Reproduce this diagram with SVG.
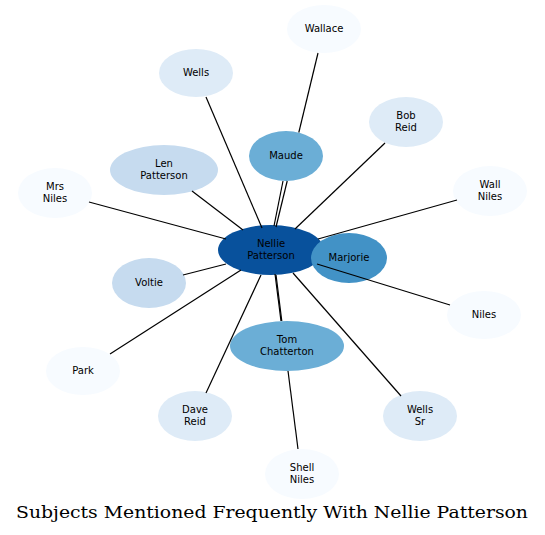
<svg xmlns="http://www.w3.org/2000/svg" width="545" height="535" viewBox="0 0 545 535">
<style>
text{font-family:"DejaVu Sans",sans-serif;font-size:10px;text-anchor:middle;fill:#000}
.e line{stroke:#000;stroke-width:1.2}
.c0{fill:#f7fbff}.c1{fill:#deebf7}.c2{fill:#c6dbef}.c3{fill:#6baed6}.c4{fill:#4292c6}.c5{fill:#08519c}
.t{font-family:"DejaVu Serif",serif;font-size:17px}
</style>
<rect width="545" height="535" fill="#fff"/>
<g id="nodes">
<g id="wallace"><ellipse class="c0" cx="324" cy="29" rx="37" ry="24"/><text x="324" y="32">Wallace</text></g>
<g id="wells"><ellipse class="c1" cx="196" cy="73" rx="37" ry="24"/><text x="196" y="76">Wells</text></g>
<g id="bobreid"><ellipse class="c1" cx="406" cy="122" rx="37" ry="25"/><text x="406" y="119">Bob</text><text x="406" y="131">Reid</text></g>
<g id="maude"><ellipse class="c3" cx="286" cy="156" rx="37" ry="25"/><text x="286" y="159">Maude</text></g>
<g id="lenpatterson"><ellipse class="c2" cx="164" cy="170" rx="54" ry="25"/><text x="164" y="167">Len</text><text x="164" y="179">Patterson</text></g>
<g id="mrsniles"><ellipse class="c0" cx="55" cy="193" rx="37" ry="25"/><text x="55" y="190">Mrs</text><text x="55" y="202">Niles</text></g>
<g id="wallniles"><ellipse class="c0" cx="490" cy="191" rx="37" ry="25"/><text x="490" y="188">Wall</text><text x="490" y="200">Niles</text></g>
<g id="nellie"><ellipse class="c5" cx="271" cy="250" rx="53" ry="25"/><text x="271" y="247">Nellie</text><text x="271" y="259">Patterson</text></g>
<g id="marjorie"><ellipse class="c4" cx="349" cy="258" rx="38" ry="25"/><text x="349" y="261">Marjorie</text></g>
<g id="voltie"><ellipse class="c2" cx="149" cy="283" rx="37" ry="25"/><text x="149" y="286">Voltie</text></g>
<g id="niles"><ellipse class="c0" cx="484" cy="315" rx="37" ry="24"/><text x="484" y="318">Niles</text></g>
<g id="park"><ellipse class="c0" cx="83" cy="371" rx="37" ry="24"/><text x="83" y="374">Park</text></g>
<g id="tomchatterton"><ellipse class="c3" cx="287" cy="346" rx="57" ry="25"/><text x="287" y="343">Tom</text><text x="287" y="355">Chatterton</text></g>
<g id="davereid"><ellipse class="c1" cx="195" cy="416" rx="37" ry="25"/><text x="195" y="413">Dave</text><text x="195" y="425">Reid</text></g>
<g id="wellssr"><ellipse class="c1" cx="420" cy="416" rx="37" ry="25"/><text x="420" y="413">Wells</text><text x="420" y="425">Sr</text></g>
<g id="shellniles"><ellipse class="c0" cx="302" cy="474" rx="37" ry="25"/><text x="302" y="471">Shell</text><text x="302" y="483">Niles</text></g>
</g>
<g id="connectors" class="e">
<line x1="318" y1="53" x2="298.8" y2="132.5"/><line x1="287.2" y1="181" x2="276" y2="227"/>
<line x1="206" y1="97" x2="262" y2="228"/>
<line x1="385" y1="143" x2="295" y2="229"/>
<line x1="283" y1="181" x2="274" y2="226"/>
<line x1="192" y1="191" x2="243" y2="230"/>
<line x1="89" y1="202" x2="226" y2="239"/>
<line x1="457" y1="200" x2="318" y2="239"/>
<line x1="183" y1="275" x2="226" y2="264"/>
<line x1="450" y1="305" x2="317" y2="264"/>
<line x1="110" y1="354" x2="241" y2="270"/>
<line x1="281" y1="321" x2="275" y2="274"/>
<line x1="276" y1="275" x2="281.8" y2="321"/><line x1="288" y1="371" x2="298" y2="449"/>
<line x1="206" y1="393" x2="261" y2="275"/>
<line x1="401" y1="396" x2="293" y2="273"/>
</g>
<text class="t" x="272" y="518" textLength="512" lengthAdjust="spacingAndGlyphs">Subjects Mentioned Frequently With Nellie Patterson</text>
</svg>
